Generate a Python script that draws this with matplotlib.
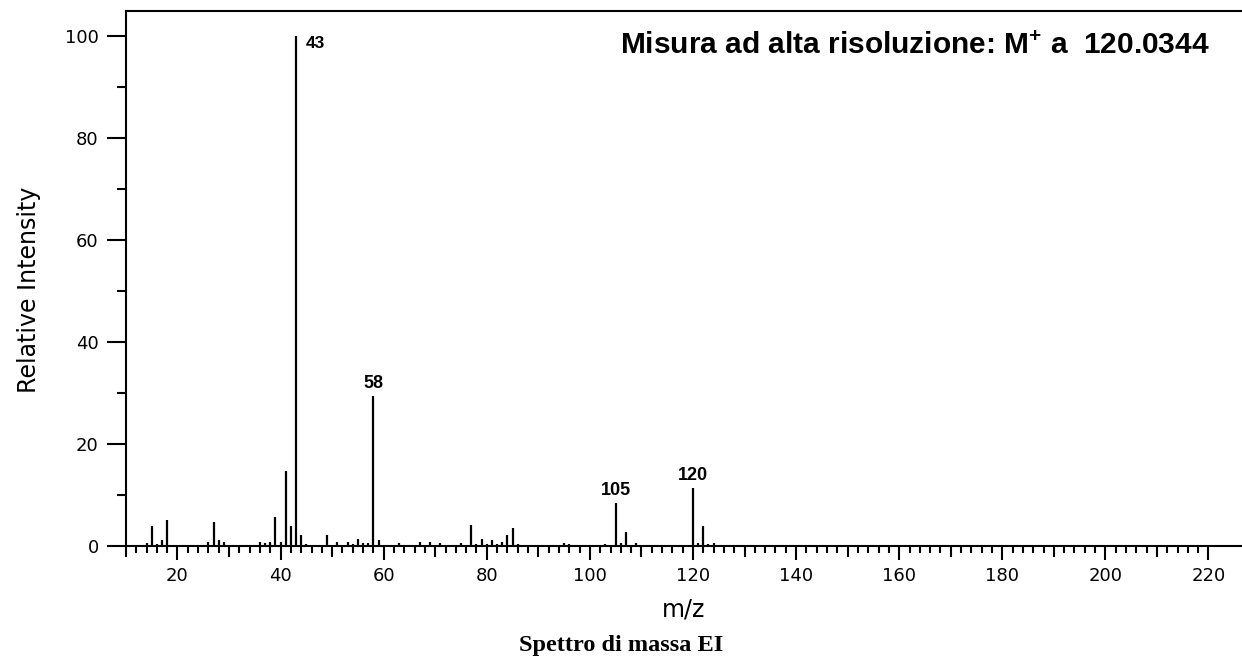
import matplotlib
matplotlib.use("Agg")
import matplotlib.pyplot as plt
from matplotlib.ticker import MultipleLocator, FixedLocator

# EI mass spectrum, peaks
mz = [14, 15, 16, 17, 18, 26, 27, 28, 29, 31, 32, 35, 36, 37, 38, 39, 40, 41, 42, 43,
      44, 45, 49, 50, 51, 52, 53, 54, 55, 56, 57, 58, 59, 60, 62, 63, 67, 69, 71, 75,
      77, 78, 79, 80, 81, 82, 83, 84, 85, 86, 89, 91, 93, 95, 96, 97, 103, 105, 106, 107,
      108, 109, 111, 117, 120, 121, 122, 123, 124, 127, 135, 137, 145, 146, 147, 151,
      159, 173, 186, 187, 188, 222]
intensity = [0.6, 3.9, 0.3, 1.1, 5.0, 0.85, 4.7, 1.1, 0.85, 0.2, 0.2, 0.2, 0.85, 0.6, 0.85, 5.6, 0.85, 14.8, 3.9, 100,
             2.2, 0.3, 2.2, 0.2, 0.85, 0.2, 0.85, 0.3, 1.4, 0.6, 0.6, 29.4, 1.1, 0.2, 0.2, 0.6, 0.85, 0.8, 0.6, 0.6,
             4.1, 0.3, 1.4, 0.3, 1.1, 0.3, 0.85, 2.2, 3.6, 0.3, 0.15, 0.2, 0.15, 0.6, 0.3, 0.2, 0.3, 8.4, 0.6, 2.7,
             0.2, 0.5, 0.2, 0.2, 11.4, 0.6, 4.0, 0.4, 0.5, 0.2, 0.15, 0.15, 0.15, 0.15, 0.15, 0.15,
             0.15, 0.15, 0.15, 0.15, 0.15, 0.2]
labelled = [43, 58, 105, 120]

title_text = "Misura ad alta risoluzione: M$^{+}$ a  120.0344"

plt.rcParams["mathtext.fontset"] = "custom"
plt.rcParams["mathtext.rm"] = "Liberation Sans:bold"
plt.rcParams["mathtext.bf"] = "Liberation Sans:bold"

fig = plt.figure(figsize=(12.42, 6.66), dpi=100)
ax = fig.add_axes([0.1014, 0.1802, 0.8986, 0.8033])

ax.vlines(mz, 0, intensity, color="black", linewidth=1.6)

for m, h in zip(mz, intensity):
    if m in labelled:
        if m == 43:
            ax.annotate(str(m), (m, h), xytext=(7, 0), textcoords="offset points",
                        ha="left", va="top", fontsize=12.5, fontweight="bold",
                        family="Liberation Sans")
        else:
            ax.annotate(str(m), (m, h), xytext=(0, 3), textcoords="offset points",
                        ha="center", va="bottom", fontsize=13, fontweight="bold",
                        family="Liberation Sans")

ax.set_xlim(10, 226.5)
ax.set_ylim(0, 104.9)

ax.spines["right"].set_visible(False)
for s in ["left", "top", "bottom"]:
    ax.spines[s].set_linewidth(1.5)

ax.xaxis.set_major_locator(FixedLocator(range(20, 221, 20)))
ax.xaxis.set_minor_locator(FixedLocator([v for v in range(10, 221, 2) if v % 10 != 0]))
ax.tick_params(axis="x", which="major", direction="out", length=10, width=1.5,
               labelsize=13, pad=5)
ax.tick_params(axis="x", which="minor", direction="out", length=5, width=1.5)

# medium ticks on the odd tens
sec = ax.secondary_xaxis("bottom")
sec.xaxis.set_major_locator(FixedLocator(range(10, 221, 20)))
sec.tick_params(axis="x", which="major", direction="out", length=8, width=1.5,
                labelbottom=False)
sec.spines["bottom"].set_visible(False)

ax.yaxis.set_major_locator(MultipleLocator(20))
ax.yaxis.set_minor_locator(MultipleLocator(10))
ax.tick_params(axis="y", which="major", direction="out", length=13.5, width=1.5,
               labelsize=13, pad=6)
ax.tick_params(axis="y", which="minor", direction="out", length=6.7, width=1.5)

ax.set_xlabel("m/z", fontsize=17, labelpad=9)
ax.set_ylabel("Relative Intensity", fontsize=17,
              family=["Liberation Sans Narrow", "DejaVu Sans"])
ax.yaxis.set_label_coords(-0.076, 0.478)

ax.text(0.971, 0.9346, title_text, transform=ax.transAxes, ha="right", va="center",
        fontsize=21.5, fontweight="bold", family="Liberation Sans")

fig.text(0.5, 0.031, "Spettro di massa EI", ha="center", va="center",
         fontsize=17.5, fontweight="bold", family="Liberation Serif")

fig.savefig("out.png", dpi=100)
